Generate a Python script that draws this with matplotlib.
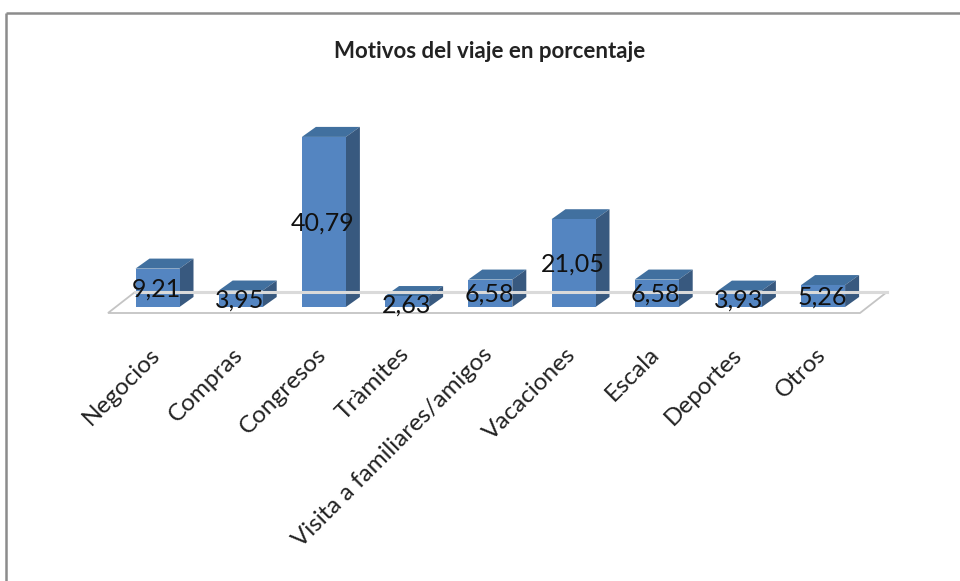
import matplotlib
matplotlib.use("Agg")
import matplotlib.pyplot as plt
from matplotlib.patches import Polygon

plt.rcParams["font.family"] = ["Lato", "DejaVu Sans"]

W = 960
H = 581

motivos = ["Negocios", "Compras", "Congresos", "Tràmites", "Visita a familiares/amigos",
           "Vacaciones", "Escala", "Deportes", "Otros"]
porcentajes = [9.21, 3.95, 40.79, 2.63, 6.58, 21.05, 6.58, 3.93, 5.26]
etiquetas = ["9,21", "3,95", "40,79", "2,63", "6,58", "21,05", "6,58", "3,93", "5,26"]

# pixel scale of the fake 3D chart
X0 = 157.5
X_STEP = 83.2
Y0 = 307
Y_UNIT = 4.17
BAR_W = 44 / X_STEP
DX = 14 / X_STEP   # depth offset
DY = 10 / Y_UNIT

FRONT = "#5485C1"
TOP = "#41709F"
SIDE = "#38597F"

fig = plt.figure(figsize=(W / 100, H / 100), dpi=100)
ax = fig.add_axes([0, 0, 1, 1])
ax.set_xlim(-X0 / X_STEP, (W - X0) / X_STEP)
ax.set_ylim((Y0 - H) / Y_UNIT, Y0 / Y_UNIT)
ax.axis("off")

# chart frame, cut off at right and bottom
ax.plot([-X0 / X_STEP + 6 / X_STEP] * 2, [(Y0 - H) / Y_UNIT, (Y0 - 13) / Y_UNIT],
        color="#8c8c8c", lw=1.8, solid_capstyle="butt")
ax.plot([-X0 / X_STEP + 6 / X_STEP, (W - X0) / X_STEP], [(Y0 - 13) / Y_UNIT] * 2,
        color="#8c8c8c", lw=1.8, solid_capstyle="butt")

# floor
f_left = (108 - X0) / X_STEP
f_right = (860 - X0) / X_STEP
f_low = -6 / Y_UNIT
f_back = 15 / Y_UNIT
f_dx = 27 / X_STEP
ax.add_patch(Polygon([(f_left, f_low), (f_right, f_low), (f_right + f_dx, f_back), (f_left + f_dx, f_back)],
                     closed=True, facecolor="white", edgecolor="#c4c4c4", lw=1.3))
ax.plot([f_left + f_dx, f_right + f_dx], [f_back, f_back], color="#dadada", lw=2.2)

for i, v in enumerate(porcentajes):
    l = i - BAR_W / 2
    r = i + BAR_W / 2
    ax.add_patch(Polygon([(l, v), (r, v), (r + DX, v + DY), (l + DX, v + DY)], facecolor=TOP, edgecolor="none"))
    ax.add_patch(Polygon([(r, 0), (r + DX, DY), (r + DX, v + DY), (r, v)], facecolor=SIDE, edgecolor="none"))
    ax.add_patch(Polygon([(l, 0), (r, 0), (r, v), (l, v)], facecolor=FRONT, edgecolor="none"))
    # the smallest label sits lower, nearly on the floor line
    y = v / 2 - 1 / Y_UNIT
    if v < 3:
        y -= 3 / Y_UNIT
    ax.text(i - 1 / X_STEP, y, etiquetas[i], ha="center", va="center", fontsize=18, color="#111111")

for i, m in enumerate(motivos):
    ax.text(i - 1 / X_STEP, -44 / Y_UNIT, m, rotation=45, rotation_mode="anchor",
            ha="right", va="center", fontsize=17.5, color="#222222")

ax.text((490 - X0) / X_STEP, (Y0 - 52) / Y_UNIT, "Motivos del viaje en porcentaje",
        ha="center", va="center", fontsize=16, fontweight="bold", color="#222222")

fig.savefig("out.png", dpi=100)
